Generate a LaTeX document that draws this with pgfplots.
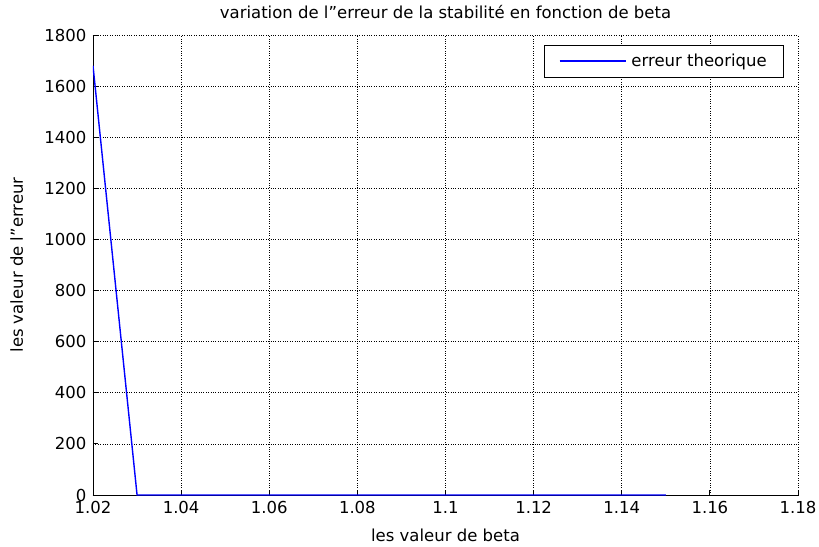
\documentclass[border=0pt]{standalone}
\usepackage{pgfplots}
\pgfplotsset{compat=1.18}
\usepackage{fontspec}
\setmainfont{DejaVu Sans}
\definecolor{mblue}{rgb}{0,0,1}
\newcommand\ff{\fontsize{16.5pt}{19pt}\selectfont}
\begin{document}
\ff
\begin{tikzpicture}
\begin{axis}[
  scale only axis,
  width=705pt, height=460pt,
  xmin=1.02, xmax=1.18, ymin=0, ymax=1800,
  xtick={1.02,1.04,1.06,1.08,1.1,1.12,1.14,1.16,1.18},
  xticklabels={1.02,1.04,1.06,1.08,1.1,1.12,1.14,1.16,1.18},
  ytick={0,200,400,600,800,1000,1200,1400,1600,1800},
  yticklabels={0,200,400,600,800,1000,1200,1400,1600,1800},
  axis x line*=bottom, axis y line*=left,
  axis line style={-, black, line width=0.8pt},
  tick align=inside, major tick length=5pt,
  tick style={black, line width=0.8pt},
  grid=major, major grid style={black, dotted, line width=0.7pt},
  title={variation de l"erreur de la stabilité en fonction de beta},
  xlabel={les valeur de beta},
  ylabel={les valeur de l"erreur},
  every tick label/.append style={font=\ff},
  xticklabel style={yshift=-1pt},
  yticklabel style={xshift=-1pt},
  label style={font=\ff},
  xlabel style={yshift=-4pt},
  ylabel style={yshift=10pt},
  title style={font=\ff, yshift=5pt},
  legend style={at={(1,1)}, anchor=north east, xshift=-15pt, yshift=-10pt,
    draw=none, fill=white, name=myleg, font=\ff,
    inner xsep=14pt, inner ysep=6.5pt},
  legend cell align=left,
  legend image code/.code={\draw[draw=mblue, line width=1.6pt] (0pt,0pt) -- (66pt,0pt);},
]
\addplot[mblue, line width=1.4pt] coordinates {
(1.02,1680) (1.03,0) (1.04,0) (1.05,0) (1.06,0) (1.07,0) (1.08,0)
(1.09,0) (1.10,0) (1.11,0) (1.12,0) (1.13,0) (1.14,0) (1.15,0)
};
\addlegendentry{\hspace{3pt}erreur theorique}
\end{axis}
\draw[black, line width=0.8pt] (myleg.south west) rectangle (myleg.north east);
\pgfresetboundingbox
\path[use as bounding box] ([shift={(-93pt,-51pt)}]current axis.south west) rectangle ([shift={(21pt,35pt)}]current axis.north east);
\end{tikzpicture}
\end{document}
